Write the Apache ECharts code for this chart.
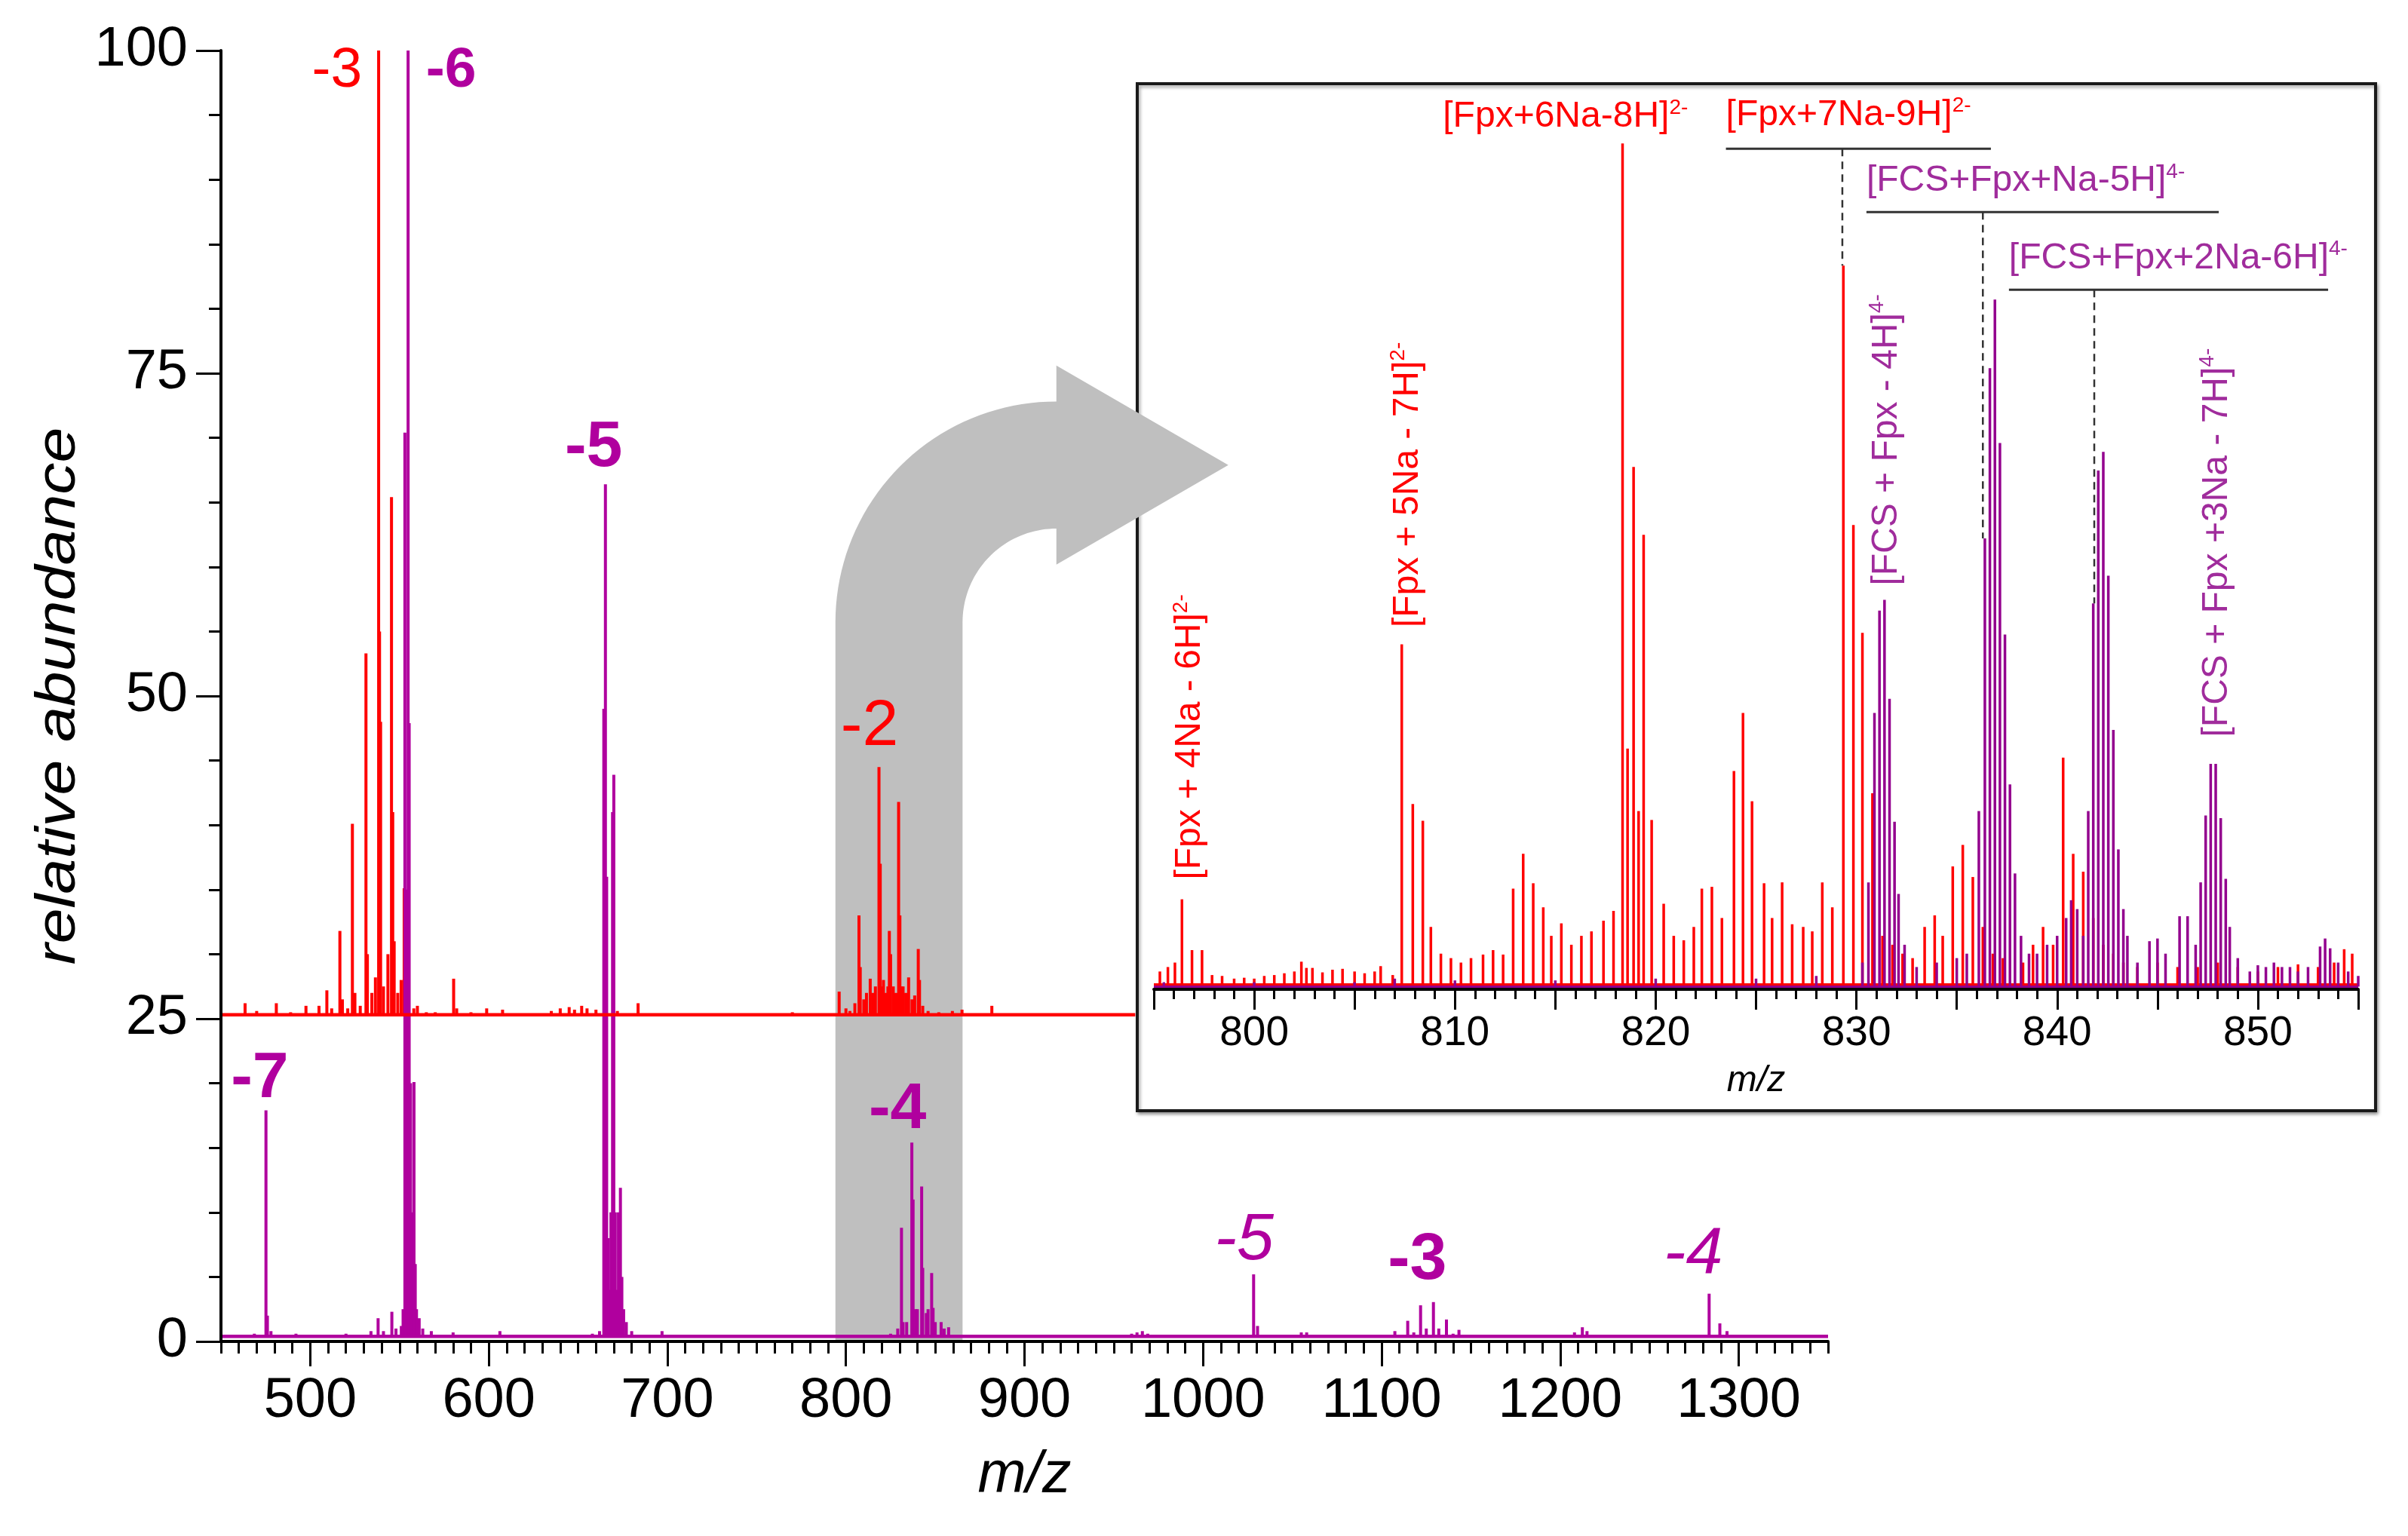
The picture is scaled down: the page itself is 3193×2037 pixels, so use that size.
<!DOCTYPE html>
<html>
<head>
<meta charset="utf-8">
<title>ESI-MS spectrum with inset</title>
<script src="https://cdn.jsdelivr.net/npm/echarts@6/dist/echarts.min.js"></script>
<style>
  html, body { margin: 0; padding: 0; background: #fff; }
  #main { width: 3193px; height: 2037px; }
</style>
</head>
<body>
<div id="main"></div>
<script>
// ---- data ----
// main spectrum, upper (red) trace, in axis units (its baseline sits at 25)
var redPeaks = [
  [463.5, 26.2], [470, 25.6], [481, 26.2], [489, 25.5], [497.6, 26], [504.9, 26], [509.3, 27.2], [512, 25.8],
  [516.6, 31.8], [518, 26.5], [521, 25.8], [523.6, 40.1], [525, 27], [528, 26], [531.2, 53.3], [532, 30],
  [534.5, 27], [536.5, 28.2], [538.3, 100], [538.8, 55], [539.4, 48], [541, 27.5], [543.5, 30], [545.5, 65.4],
  [546.2, 41], [547, 31], [549, 27], [550.9, 28], [552.6, 35.1], [555, 26], [558, 25.8], [560, 26],
  [565, 25.5], [570, 25.5], [580.3, 28.1], [582, 25.8], [590, 25.5], [598.8, 25.8], [607.7, 25.7], [615, 25.4],
  [625, 25.4], [635, 25.6], [640, 25.8], [645, 25.9], [648, 25.7], [652, 26], [655, 25.8], [660, 25.7],
  [672, 25.6], [683.6, 26.2], [690, 25.4], [700, 25.4], [710.7, 25.3], [720, 25.3], [740, 25.3], [755, 25.4],
  [770, 25.5], [785, 25.4], [796.2, 27.1], [800, 25.8], [802.2, 25.6], [805, 26.2], [807.3, 33], [808, 29],
  [810, 26.5], [811.5, 27], [813.6, 28.1], [815, 27], [816.5, 27.5], [818.5, 44.5], [819.2, 37], [820, 27.5],
  [821, 28], [822.5, 27], [823.5, 27.5], [824.3, 31.8], [825, 30], [826.5, 27.5], [828, 27], [829.5, 41.8],
  [830.2, 33], [831, 27.5], [832, 27.5], [833.5, 27], [835.1, 28.2], [837, 26.5], [838.5, 26.8], [840.5, 30.4],
  [841.2, 28], [843, 26], [846, 25.6], [852, 25.5], [859.6, 25.6], [865, 25.7], [870, 25.4], [881.7, 26],
  [890, 25.4], [900, 25.3], [922.5, 25.4], [940, 25.3], [955, 25.4]
];
// main spectrum, lower (magenta) trace
var magentaPeaks = [
  [460, 0.4], [468.7, 0.6], [475.2, 17.9], [476, 2], [478, 0.8], [485, 0.4], [492, 0.6], [500, 0.4],
  [510, 0.4], [520, 0.6], [530, 0.5], [534, 0.8], [538, 1.8], [541, 0.8], [545.7, 2.3], [548, 1],
  [551, 1.2], [552, 2.5], [553, 70.4], [553.6, 35], [554.8, 100], [555.4, 47.9], [556.2, 20], [557.2, 10],
  [558.1, 20.1], [558.8, 6], [559.5, 2.5], [561, 1.8], [563, 1], [567.8, 0.8], [572, 0.5], [580, 0.7],
  [590, 0.4], [600, 0.4], [606.2, 0.8], [612, 0.4], [620, 0.4], [630, 0.5], [640, 0.4], [650, 0.5],
  [658, 0.6], [662, 0.8], [664.4, 49], [665.3, 66.4], [666, 36], [666.8, 8], [667.5, 4], [668.4, 10],
  [669.3, 41], [670, 43.9], [670.8, 10], [671.8, 4], [672.6, 10], [673.7, 11.9], [674.5, 5], [675.5, 2.5],
  [677, 1.5], [680, 0.8], [686, 0.5], [697, 0.8], [705, 0.4], [720, 0.4], [740, 0.3], [760, 0.4],
  [780, 0.4], [800, 0.4], [815, 0.5], [825, 0.6], [829, 1], [831.1, 8.8], [832, 1.5], [834, 1.5],
  [836.9, 15.4], [837.6, 11], [839, 2.5], [840, 2.5], [842.4, 12], [843, 5.7], [845, 2.2], [846, 2.5],
  [848, 5.3], [848.8, 2.6], [850, 1.5], [853.3, 1.5], [855, 1], [857.5, 1.1], [862, 0.5], [871, 0.5],
  [880, 0.4], [890, 0.4], [900, 0.3], [920, 0.3], [940, 0.4], [955, 0.5], [960, 0.6], [963, 0.7],
  [966, 0.8], [969, 0.6], [972, 0.5], [990, 0.3], [1000, 0.4], [1005, 0.5], [1010, 0.5], [1015, 0.5],
  [1020, 0.4], [1028.3, 5.2], [1030.5, 1.2], [1035, 0.5], [1042, 0.4], [1050, 0.5], [1055, 0.7], [1058, 0.7],
  [1062, 0.5], [1080, 0.3], [1100, 0.3], [1107.4, 0.8], [1114.6, 1.6], [1118, 0.7], [1121.8, 2.8], [1125, 1],
  [1129, 3.05], [1132, 1], [1136.3, 1.7], [1140, 0.6], [1143.3, 0.9], [1150, 0.4], [1160, 0.4], [1180, 0.3],
  [1200, 0.4], [1208, 0.7], [1212.4, 1.1], [1215, 0.8], [1220, 0.4], [1240, 0.3], [1260, 0.3], [1283.4, 3.7],
  [1289.4, 1.4], [1293.4, 0.8], [1300, 0.4], [1320, 0.3], [1340, 0.3]
];
// inset, 795-855, arbitrary 0-100 scale
var insetRedPeaks = [
  [795.3, 2], [795.7, 2.5], [796.05, 3], [796.4, 10.1], [796.9, 4.4], [797.4, 4.4], [797.9, 1.6], [798.4, 1.5],
  [799, 1.2], [799.5, 1.3], [800, 1.2], [800.5, 1.5], [801, 1.6], [801.5, 1.8], [802, 2], [802.35, 3.1],
  [802.6, 2.4], [802.9, 2.4], [803.4, 1.9], [803.9, 2.2], [804.4, 2.3], [805, 2], [805.5, 1.8], [806, 2],
  [806.3, 2.6], [806.9, 1.6], [807.35, 38.7], [807.9, 20.8], [808.4, 18.9], [808.8, 7], [809.3, 4], [809.8, 3.5],
  [810.3, 3], [810.8, 3.5], [811.4, 3.9], [811.9, 4.4], [812.4, 3.9], [812.9, 11.3], [813.4, 15.2], [813.9, 11.9],
  [814.4, 9.2], [814.8, 6], [815.3, 7.4], [815.8, 5], [816.3, 6], [816.8, 6.5], [817.4, 7.7], [817.9, 8.8],
  [818.35, 94.9], [818.6, 27], [818.9, 58.6], [819.15, 20], [819.4, 51], [819.8, 19], [820.4, 9.6], [820.9, 6],
  [821.4, 5.5], [821.9, 7], [822.3, 11.3], [822.8, 11.5], [823.3, 8], [823.9, 24.5], [824.35, 31], [824.8, 21.1],
  [825.4, 11.9], [825.8, 8], [826.3, 12], [826.8, 7.3], [827.35, 7], [827.8, 6.5], [828.3, 12], [828.8, 9.2],
  [829.35, 81.2], [829.85, 52.1], [830.3, 40], [830.8, 22], [831.3, 6], [831.8, 5], [832.3, 4], [832.8, 3.5],
  [833.4, 7], [833.9, 8.3], [834.3, 6], [834.8, 13.8], [835.3, 16.2], [835.8, 12.6], [836.3, 7], [836.8, 4],
  [837.3, 3.5], [838.3, 3], [838.8, 5], [839.3, 7], [839.8, 5], [840.3, 26], [840.8, 15.2], [841.3, 13.2],
  [841.8, 8], [842.3, 5], [842.8, 4], [843.3, 3], [844, 2.5], [845, 3], [846, 2.5], [847, 2.5],
  [848, 3], [849, 2.5], [850, 2], [851, 2.5], [852, 2.8], [853, 2.5], [853.8, 3], [854.3, 4.5], [854.7, 4]
];
var insetPurplePeaks = [
  [795.5, 0.8], [800, 0.8], [805, 0.8], [807, 1.2], [810, 1], [815, 1], [820, 1.2], [825, 1.2],
  [828, 1.5], [830.3, 3], [830.6, 12], [830.9, 31], [831.15, 42.5], [831.4, 43.7], [831.65, 32.6], [831.9, 18.8],
  [832.1, 10.7], [832.4, 5], [833, 2.5], [834, 3], [835, 3.5], [835.5, 4], [836.1, 20], [836.4, 50.6],
  [836.65, 69.7], [836.9, 77.4], [837.15, 61.3], [837.4, 39.8], [837.65, 23], [837.9, 13], [838.2, 6], [838.6, 4],
  [839, 4], [839.5, 5], [840, 6], [840.45, 8], [840.7, 10], [841, 9], [841.3, 6], [841.55, 20],
  [841.8, 43.3], [842.05, 58.2], [842.3, 60.3], [842.55, 46.4], [842.8, 29.1], [843.05, 15.7], [843.3, 9], [843.5, 6],
  [844, 3], [844.6, 5.4], [845, 5.7], [845.4, 4], [846.1, 8.2], [846.5, 8.2], [846.9, 5], [847.15, 12],
  [847.4, 19.5], [847.65, 25.3], [847.9, 25.3], [848.15, 19.2], [848.4, 12.4], [848.6, 7], [849, 3.5], [849.6, 2],
  [850, 2.7], [850.4, 2.5], [850.8, 3], [851.2, 2.5], [851.6, 2.5], [852, 2], [852.5, 2.5], [853.1, 4.8],
  [853.35, 5.7], [853.6, 4.6], [854, 3], [854.5, 2], [855, 1.5]
];

var mainTicks = [500, 600, 700, 800, 900, 1000, 1100, 1200, 1300];

var chargeTexts = ['-3', '-6', '-5', '-2', '-7', '-4', '-5', '-3', '-4'];
var chargeSeries = ['red', 'mag', 'mag', 'red', 'mag', 'mag', 'mag', 'mag', 'mag'];

var ionMain = ['[Fpx+6Na-8H]', '[Fpx+7Na-9H]', '[FCS+Fpx+Na-5H]', '[FCS+Fpx+2Na-6H]'];
var ionMainCharge = ['2-', '2-', '4-', '4-'];
var ionSide = ['[Fpx + 4Na - 6H]', '[Fpx + 5Na - 7H]', '[FCS + Fpx - 4H]', '[FCS + Fpx +3Na - 7H]'];
var ionSideCharge = ['2-', '2-', '4-', '4-'];

// ---- layout (data-unit anchors and styling) ----
var FONT = '"Liberation Sans", Arial, sans-serif';
var RED = '#FF0000';
var MAG = '#B0009E';
var PUR = '#93008E';
var PUR_TXT = '#A02C9C';

var redSpan = [450, 962];
var magSpan = [450, 1350];
var insetSpan = [795, 855];
var zoomBand = [794.1, 865.3];

var chargeAt = [[515, 98.4], [578.9, 98.4], [658.7, 69.2], [813.2, 47.6], [471.7, 20.3], [828.9, 17.9], [1023, 7.8], [1120, 6.25], [1274.5, 6.7]];
var chargeFont = [
  '75px', 'bold 75px', 'bold 86px', '86px', 'bold 86px', 'bold 86px', 'italic 88px', 'bold 88px', 'italic 88px'
];
var ionMainAt = [[809.4, 97.9], [823.5, 98.1], [830.5, 90.7], [837.6, 82]];
var ionMainColor = [RED, RED, PUR_TXT, PUR_TXT];
var bracketLines = [[823.5, 836.7, 94.3], [830.5, 848.05, 87.2], [837.6, 853.5, 78.5]];
var dropLines = [[829.3, 94.3, 81.2], [836.3, 87.2, 50.6], [841.85, 78.5, 43.3]];
var ionSideAt = [[796.8, 12.3], [807.65, 40.6], [831.5, 45.3], [847.96, 28.3]];
var ionSideColor = [RED, RED, PUR_TXT, PUR_TXT];

function sticks(data, base, color, width, gi, z) {
  return {
    type: 'custom', xAxisIndex: gi === 0 ? 0 : 2, yAxisIndex: gi, z: z, silent: true,
    data: data,
    renderItem: function (params, api) {
      var p0 = api.coord([api.value(0), base]);
      var p1 = api.coord([api.value(0), api.value(1)]);
      return {
        type: 'line',
        shape: { x1: p0[0], y1: p0[1], x2: p1[0], y2: p1[1] },
        style: { stroke: color, lineWidth: width }
      };
    }
  };
}

function baseline(span, base, color, width, gi, z) {
  return {
    type: 'line', xAxisIndex: gi === 0 ? 0 : 2, yAxisIndex: gi, z: z, silent: true,
    symbol: 'none', data: [[span[0], base], [span[1], base]],
    lineStyle: { color: color, width: width }
  };
}

var tickStyle = { color: '#000', width: 3 };

var chart = echarts.init(document.getElementById('main'));
chart.setOption({
  animation: false,
  textStyle: { fontFamily: FONT },
  grid: [
    { left: 293, top: 67, width: 2131, height: 1712 },
    { left: 1530, top: 130, width: 1597, height: 1182 }
  ],
  xAxis: [
    {
      gridIndex: 0, type: 'value', min: 450, max: 1350, interval: 10, position: 'bottom', z: 3,
      axisLine: { onZero: false, lineStyle: { color: '#000', width: 4 } },
      axisTick: { length: 16, lineStyle: tickStyle },
      axisLabel: { show: false },
      splitLine: { show: false },
      name: 'm/z', nameLocation: 'middle', nameGap: 140,
      nameTextStyle: { fontSize: 77, fontStyle: 'italic', color: '#000', fontFamily: FONT }
    },
    {
      gridIndex: 0, type: 'value', min: 450, max: 1350, position: 'bottom', z: 3,
      axisLine: { show: false },
      axisTick: { show: true, length: 33, customValues: mainTicks, lineStyle: tickStyle },
      axisLabel: {
        show: true, customValues: mainTicks, margin: 43, fontSize: 74, color: '#000', fontFamily: FONT,
        formatter: function (v) { return String(v); }
      },
      splitLine: { show: false }
    },
    {
      gridIndex: 1, type: 'value', min: 795, max: 855, interval: 5, position: 'bottom', z: 6,
      axisLine: { onZero: false, lineStyle: { color: '#000', width: 4 } },
      axisTick: { length: 27, lineStyle: tickStyle },
      minorTick: { show: true, splitNumber: 5, length: 13, lineStyle: tickStyle },
      axisLabel: {
        margin: 31, fontSize: 55, color: '#000', fontFamily: FONT,
        formatter: function (v) { return v % 10 === 0 ? String(v) : ''; }
      },
      splitLine: { show: false },
      name: 'm/z', nameLocation: 'middle', nameGap: 98,
      nameTextStyle: { fontSize: 48, fontStyle: 'italic', color: '#000', fontFamily: FONT }
    }
  ],
  yAxis: [
    {
      gridIndex: 0, type: 'value', min: 0, max: 100, interval: 25, z: 3,
      axisLine: { show: true, lineStyle: { color: '#000', width: 4 } },
      axisTick: { show: true, length: 33, lineStyle: tickStyle },
      minorTick: { show: true, splitNumber: 5, length: 16, lineStyle: tickStyle },
      axisLabel: { margin: 44, fontSize: 74, color: '#000', fontFamily: FONT },
      splitLine: { show: false }
    },
    { gridIndex: 1, type: 'value', min: 0, max: 100, show: false }
  ],
  series: [
    baseline(redSpan, 25.3, RED, 4.5, 0, 2),
    sticks(redPeaks, 25.3, RED, 4, 0, 2),
    baseline(magSpan, 0.4, MAG, 4.5, 0, 2),
    sticks(magentaPeaks, 0.4, MAG, 4, 0, 2),
    baseline(insetSpan, 0.5, RED, 4, 1, 5),
    sticks(insetRedPeaks, 0.5, RED, 3.5, 1, 5),
    baseline(insetSpan, 0.3, PUR, 3, 1, 6),
    sticks(insetPurplePeaks, 0.3, PUR, 3.5, 1, 6)
  ]
});

function px0(p) { return chart.convertToPixel({ gridIndex: 0 }, p); }
function px1(p) { return chart.convertToPixel({ gridIndex: 1 }, p); }

var elements = [];

// inset frame
elements.push({
  type: 'rect', z: 0, silent: true,
  shape: { x: 1508, y: 111, width: 1642, height: 1362 },
  style: { fill: '#fff', stroke: '#1a1a1a', lineWidth: 4, shadowBlur: 4, shadowOffsetX: 2, shadowOffsetY: 3, shadowColor: 'rgba(0,0,0,0.35)' }
});

// curved grey arrow from the zoomed band to the inset
(function () {
  var xL = px0([zoomBand[0], 0])[0];
  var xR = px0([zoomBand[1], 0])[0];
  var yB = px0([0, 0])[1];
  var cy = px0([0, 55.7])[1];
  var R = 293;
  var cx = xL + R;
  var r = cx - xR;
  var midY = cy - (R + r) / 2;
  var half = 132, headLen = 228;
  var pts = [[xL, yB]];
  var k, a;
  for (k = 0; k <= 40; k++) {
    a = Math.PI + k / 40 * Math.PI / 2;
    pts.push([cx + R * Math.cos(a), cy + R * Math.sin(a)]);
  }
  pts.push([cx, midY - half], [cx + headLen, midY], [cx, midY + half]);
  for (k = 40; k >= 0; k--) {
    a = Math.PI + k / 40 * Math.PI / 2;
    pts.push([cx + r * Math.cos(a), cy + r * Math.sin(a)]);
  }
  pts.push([xR, yB]);
  elements.push({ type: 'polygon', z: 1, silent: true, shape: { points: pts }, style: { fill: '#BFBFBF' } });
})();

// y axis title
elements.push({
  type: 'text', z: 3, silent: true, x: 78, y: 923, rotation: Math.PI / 2, scaleX: 1.14,
  style: { text: 'relative abundance', font: 'italic 74px ' + FONT, fill: '#000', align: 'center', verticalAlign: 'middle' }
});

// charge-state labels on the main spectrum
chargeTexts.forEach(function (t, i) {
  var p = px0(chargeAt[i]);
  elements.push({
    type: 'text', z: 4, silent: true, x: p[0], y: p[1],
    style: { text: t, font: chargeFont[i] + ' ' + FONT, fill: chargeSeries[i] === 'red' ? RED : MAG, align: 'center', verticalAlign: 'middle' }
  });
});

function ionRich(color) {
  return {
    a: { fontSize: 48, fontFamily: FONT, fill: color, lineHeight: 52 },
    s: { fontSize: 28, fontFamily: FONT, fill: color, verticalAlign: 'top', lineHeight: 52 }
  };
}

// horizontal ion labels in the inset
ionMain.forEach(function (t, i) {
  var p = px1(ionMainAt[i]);
  elements.push({
    type: 'text', z: 8, silent: true, x: p[0], y: p[1],
    style: { text: '{a|' + t + '}{s|' + ionMainCharge[i] + '}', rich: ionRich(ionMainColor[i]), align: 'left', verticalAlign: 'middle' }
  });
});

// bracket lines and dashed drop lines
bracketLines.forEach(function (b) {
  var p0 = px1([b[0], b[2]]), p1 = px1([b[1], b[2]]);
  elements.push({ type: 'line', z: 8, silent: true, shape: { x1: p0[0], y1: p0[1], x2: p1[0], y2: p1[1] }, style: { stroke: '#333', lineWidth: 3 } });
});
dropLines.forEach(function (d) {
  var p0 = px1([d[0], d[1]]), p1 = px1([d[0], d[2]]);
  elements.push({ type: 'line', z: 8, silent: true, shape: { x1: p0[0], y1: p0[1], x2: p1[0], y2: p1[1] }, style: { stroke: '#333', lineWidth: 2.5, lineDash: [10, 7] } });
});

// vertical ion labels in the inset
ionSide.forEach(function (t, i) {
  var p = px1(ionSideAt[i]);
  elements.push({
    type: 'text', z: 8, silent: true, x: p[0], y: p[1], rotation: Math.PI / 2,
    style: { text: '{a|' + t + '}{s|' + ionSideCharge[i] + '}', rich: ionRich(ionSideColor[i]), align: 'left', verticalAlign: 'middle' }
  });
});

chart.setOption({ graphic: { elements: elements } });
</script>
</body>
</html>
